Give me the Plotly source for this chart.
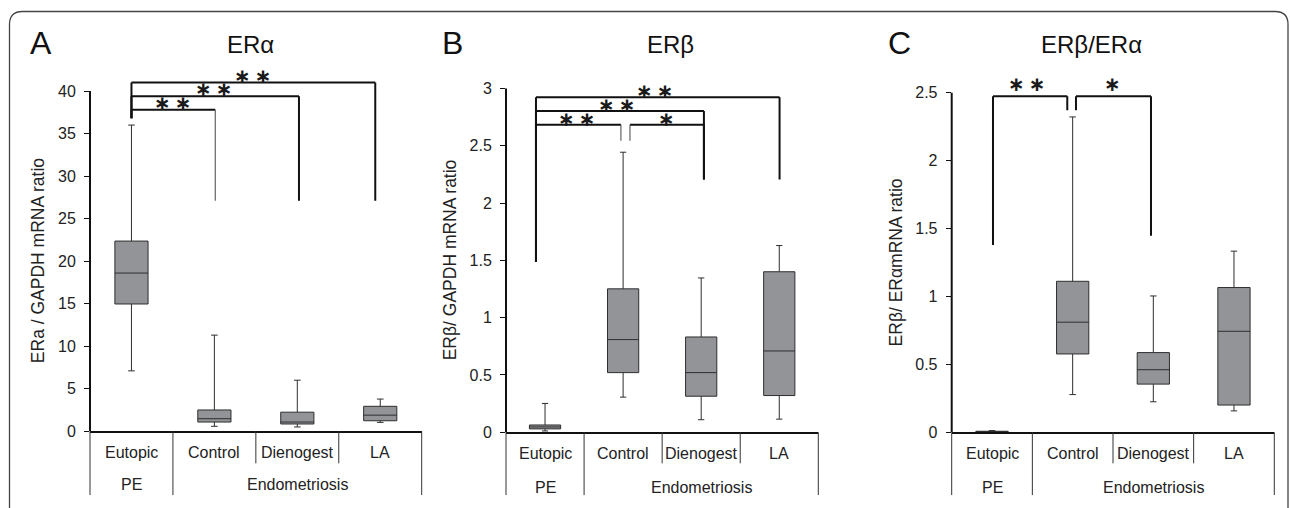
import plotly.graph_objects as go

W, H = 1290, 508

# ---------------- data ----------------
categories = ["Eutopic", "Control", "Dienogest", "LA"]
group_labels = ["PE", "Endometriosis"]
group_centers = ["Eutopic", "Dienogest"]

# Panel A: ERα / GAPDH
era_lower = [7.1, 0.58, 0.50, 1.04]
era_q1 = [14.96, 1.08, 0.85, 1.23]
era_median = [18.6, 1.47, 1.08, 1.89]
era_q3 = [22.36, 2.50, 2.24, 2.93]
era_upper = [36.0, 11.3, 6.0, 3.78]
era_ticks = [0, 5, 10, 15, 20, 25, 30, 35, 40]

# Panel B: ERβ / GAPDH
erb_lower = [0.011, 0.306, 0.109, 0.114]
erb_q1 = [0.029, 0.520, 0.314, 0.320]
erb_median = [0.046, 0.808, 0.520, 0.709]
erb_q3 = [0.063, 1.251, 0.831, 1.400]
erb_upper = [0.251, 2.443, 1.346, 1.629]
erb_ticks = [0, 0.5, 1, 1.5, 2, 2.5, 3]

# Panel C: ERβ / ERα
ratio_lower = [0.001, 0.277, 0.224, 0.157]
ratio_q1 = [0.002, 0.576, 0.354, 0.200]
ratio_median = [0.004, 0.810, 0.460, 0.743]
ratio_q3 = [0.007, 1.111, 0.586, 1.065]
ratio_upper = [0.012, 2.321, 1.003, 1.333]
ratio_ticks = [0, 0.5, 1, 1.5, 2, 2.5]

# significance brackets: (x_left, x_right, bar_y, left_drop_y, right_drop_y, left_thin, right_thin)
era_brackets = [
    (0.0, 2.94, 41.0, 36.8, 27.1, False, False),
    (0.0, 2.02, 39.4, 36.8, 27.1, False, False),
    (0.0, 1.01, 37.8, 36.8, 27.1, False, True),
]
DBL = "∗\u2009∗"
era_stars = [(DBL, 1.47, 41.0), (DBL, 1.00, 39.4), (DBL, 0.505, 37.8)]

erb_brackets = [
    (-0.116, 3.004, 2.923, 1.486, 2.205, False, False),
    (-0.116, 2.035, 2.803, 1.486, 2.205, False, False),
    (-0.116, 0.972, 2.683, 1.486, 2.543, False, True),
    (1.088, 2.035, 2.683, 2.543, 2.205, True, False),
]
erb_stars = [(DBL, 1.408, 2.923), (DBL, 0.917, 2.803), (DBL, 0.413, 2.683), ("∗", 1.558, 2.683)]

ratio_brackets = [
    (0.012, 0.933, 2.473, 1.379, 2.37, False, False),
    (1.041, 1.971, 2.473, 2.37, 1.446, False, False),
]
ratio_stars = [(DBL, 0.437, 2.473), ("∗", 1.491, 2.473)]

FONT = "Liberation Sans, Arial, sans-serif"
BOXFILL = "#939498"
LINE = "#2e2e2e"

panels = [
    dict(letter="A", title="ERα", ytitle="ERa / GAPDH mRNA ratio",
         lower=era_lower, q1=era_q1, med=era_median, q3=era_q3, upper=era_upper,
         ticks=era_ticks, brackets=era_brackets, stars=era_stars,
         px0=90, px1=421.7, py0=439, pytop=92.7, range_top=42.5,
         letter_x=41, title_x=250.5, ytitle_x=38, row1=461, row2=493, star_shift=7),
    dict(letter="B", title="ERβ", ytitle="ERβ/ GAPDH mRNA ratio",
         lower=erb_lower, q1=erb_q1, med=erb_median, q3=erb_q3, upper=erb_upper,
         ticks=erb_ticks, brackets=erb_brackets, stars=erb_stars,
         px0=506, px1=818.3, py0=440, pytop=90, range_top=3.12,
         letter_x=452.5, title_x=670, ytitle_x=450, row1=462, row2=496, star_shift=6),
    dict(letter="C", title="ERβ/ERα", ytitle="ERβ/ ERαmRNA ratio",
         lower=ratio_lower, q1=ratio_q1, med=ratio_median, q3=ratio_q3, upper=ratio_upper,
         ticks=ratio_ticks, brackets=ratio_brackets, stars=ratio_stars,
         px0=951.7, px1=1274.3, py0=440, pytop=94.3, range_top=2.6,
         letter_x=899, title_x=1091.7, ytitle_x=896, row1=462, row2=496, star_shift=12),
]


def fx(px):
    return px / W


def fy(py):
    return 1 - py / H


fig = go.Figure()
shapes = []
annotations = []
layout_axes = {}

for i, p in enumerate(panels):
    n = "" if i == 0 else str(i + 1)
    xa, ya = "x" + n, "y" + n
    tick_top = p["ticks"][-1]
    ppu = (p["py0"] - p["pytop"]) / tick_top
    top_px = p["py0"] - p["range_top"] * ppu

    fig.add_trace(go.Box(
        x=categories, q1=p["q1"], median=p["med"], q3=p["q3"],
        lowerfence=p["lower"], upperfence=p["upper"],
        xaxis=xa, yaxis=ya, fillcolor=BOXFILL,
        line=dict(color=LINE, width=1), width=0.4, whiskerwidth=0.2,
        boxpoints=False, showlegend=False, hoverinfo="skip"))

    layout_axes["xaxis" + n] = dict(
        domain=[fx(p["px0"]), fx(p["px1"])], anchor=ya, type="category",
        categoryorder="array", categoryarray=categories, range=[-0.5, 3.5],
        showline=True, linecolor="#111", linewidth=2, ticks="",
        showticklabels=False, showgrid=False, zeroline=False, fixedrange=True)
    layout_axes["yaxis" + n] = dict(
        domain=[fy(p["py0"]), fy(top_px)], anchor=xa, range=[0, p["range_top"]],
        showline=False, ticks="outside", ticklen=5, tickwidth=1.2, tickcolor="#111",
        tickvals=p["ticks"], ticktext=[f"{t:g}" for t in p["ticks"]],
        tickfont=dict(family=FONT, size=16, color="#222"), ticklabelstandoff=5,
        showgrid=False, zeroline=False, fixedrange=True)

    # y axis line (0 .. top tick)
    shapes.append(dict(type="line", xref=xa + " domain", yref=ya, x0=0, x1=0,
                       y0=0, y1=tick_top, line=dict(color="#111", width=2)))

    # category dividers
    bottom = fy(504)
    short = fy(471.7)
    axis_y = fy(p["py0"])
    for xd in (0, 1):
        shapes.append(dict(type="line", xref=xa + " domain", yref="paper",
                           x0=xd, x1=xd, y0=axis_y, y1=bottom,
                           line=dict(color="#333", width=1)))
    shapes.append(dict(type="line", xref=xa, yref="paper", x0=0.5, x1=0.5,
                       y0=axis_y, y1=bottom, line=dict(color="#333", width=1)))
    for xv in (1.5, 2.5):
        shapes.append(dict(type="line", xref=xa, yref="paper", x0=xv, x1=xv,
                           y0=axis_y, y1=short, line=dict(color="#333", width=1)))

    # category labels
    for c in categories:
        annotations.append(dict(text=c, xref=xa, yref="paper", x=c, y=fy(p["row1"]),
                                showarrow=False, xanchor="center", yanchor="middle",
                                font=dict(family=FONT, size=16, color="#222")))
    for g, c in zip(group_labels, group_centers):
        annotations.append(dict(text=g, xref=xa, yref="paper", x=c, y=fy(p["row2"]),
                                showarrow=False, xanchor="center", yanchor="middle",
                                font=dict(family=FONT, size=16, color="#222")))

    # brackets
    for (xl, xr, yb, yl, yr, lthin, rthin) in p["brackets"]:
        shapes.append(dict(type="line", xref=xa, yref=ya, x0=xl, x1=xr, y0=yb, y1=yb,
                           line=dict(color="#111", width=2)))
        shapes.append(dict(type="line", xref=xa, yref=ya, x0=xl, x1=xl, y0=yb, y1=yl,
                           line=dict(color="#444" if lthin else "#111", width=1 if lthin else 2)))
        shapes.append(dict(type="line", xref=xa, yref=ya, x0=xr, x1=xr, y0=yb, y1=yr,
                           line=dict(color="#444" if rthin else "#111", width=1 if rthin else 2)))
    for (txt, sx, sy) in p["stars"]:
        annotations.append(dict(text="<b>" + txt + "</b>", xref=xa, yref=ya, x=sx, y=sy,
                                yshift=p["star_shift"],
                                showarrow=False, xanchor="center", yanchor="middle",
                                font=dict(family="DejaVu Sans", size=20, color="#1a1a1a")))

    # panel letter, title, y title
    annotations.append(dict(text=p["letter"], xref="paper", yref="paper",
                            x=fx(p["letter_x"]), y=fy(44), showarrow=False,
                            xanchor="center", yanchor="middle",
                            font=dict(family=FONT, size=32, color="#111")))
    annotations.append(dict(text=p["title"], xref="paper", yref="paper",
                            x=fx(p["title_x"]), y=fy(45), showarrow=False,
                            xanchor="center", yanchor="middle",
                            font=dict(family=FONT, size=24, color="#111")))
    annotations.append(dict(text=p["ytitle"], xref="paper", yref="paper",
                            x=fx(p["ytitle_x"]), y=fy((p["py0"] + p["pytop"]) / 2),
                            showarrow=False, textangle=-90,
                            xanchor="center", yanchor="middle",
                            font=dict(family=FONT, size=17.5, color="#222")))

# outer rounded frame
l, t, r, b, rad = 9.5, 11.7, 1288, 530, 13
path = (f"M {fx(l)},{fy(b)} L {fx(l)},{fy(t + rad)} Q {fx(l)},{fy(t)} {fx(l + rad)},{fy(t)} "
        f"L {fx(r - rad)},{fy(t)} Q {fx(r)},{fy(t)} {fx(r)},{fy(t + rad)} L {fx(r)},{fy(b)}")
shapes.append(dict(type="path", xref="paper", yref="paper", path=path,
                   line=dict(color="#444", width=1.3)))

fig.update_layout(
    width=W, height=H, margin=dict(l=0, r=0, t=0, b=0),
    paper_bgcolor="white", plot_bgcolor="rgba(0,0,0,0)",
    shapes=shapes, annotations=annotations, showlegend=False,
    **layout_axes)

fig.write_html("out.html", config={"displayModeBar": False},
               post_script="document.body.style.margin='0';document.body.style.overflow='hidden';")
